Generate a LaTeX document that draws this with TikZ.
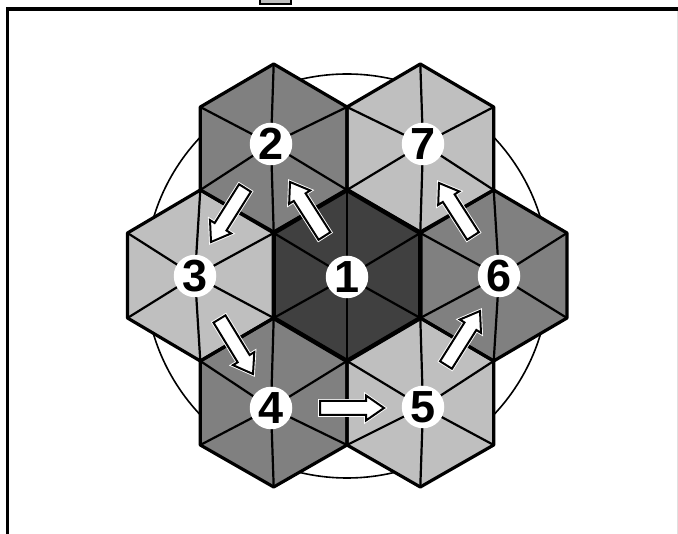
\documentclass[tikz,border=0pt]{standalone}
\usepackage{fontspec}
\setmainfont{Liberation Sans}
\usetikzlibrary{calc}
\definecolor{gdark}{gray}{0.25}
\definecolor{gmid}{gray}{0.5}
\definecolor{glight}{gray}{0.75}
\tikzset{
  spoke/.style={line width=2.2pt,black},
  hexline/.style={line width=3.2pt,black,line join=round},
  numdisc/.style={circle,fill=white,minimum size=42.5pt,inner sep=0pt,font=\fontsize{45}{45}\selectfont\bfseries},
  halo/.style={line width=3.8pt,white,miter limit=6},
  flowline/.style={line width=2pt,black,fill=white,miter limit=6}
}
% #1 name, #2 fill, #3 centre x, #4-#7 the four y levels, #8 left x, #9 right x
\newcommand\hexcell[9]{
  \coordinate (#1a) at (#3,#4);
  \coordinate (#1b) at (#9,#5);
  \coordinate (#1c) at (#9,#6);
  \coordinate (#1d) at (#3,#7);
  \coordinate (#1e) at (#8,#6);
  \coordinate (#1f) at (#8,#5);
  \fill[#2] (#1a)--(#1b)--(#1c)--(#1d)--(#1e)--(#1f)--cycle;
  \foreach \v in {a,b,c,d,e,f} {\draw[spoke] (#1\v) -- (n#1.center);}
}
\newcommand\hexedge[1]{\draw[hexline] (#1a)--(#1b)--(#1c)--(#1d)--(#1e)--(#1f)--cycle;}
\newcommand\flowarrow[2]{
  \coordinate (hb) at ($(#2)!18pt!(#1)$);
  \coordinate (p1) at ($(#1)!7pt!90:(#2)$);
  \coordinate (p2) at ($(#1)!7pt!-90:(#2)$);
  \coordinate (p3) at ($(hb)!7pt!-90:(#2)$);
  \coordinate (p4) at ($(hb)!12.5pt!-90:(#2)$);
  \coordinate (p5) at ($(hb)!12.5pt!90:(#2)$);
  \coordinate (p6) at ($(hb)!7pt!90:(#2)$);
  \draw[halo] (p1)--(p2)--(p3)--(p4)--(#2)--(p5)--(p6)--cycle;
  \draw[flowline] (p1)--(p2)--(p3)--(p4)--(#2)--(p5)--(p6)--cycle;
}
\begin{document}
\begin{tikzpicture}[x=1pt,y=-1pt]
\useasboundingbox (0,0) rectangle (678,534);
\fill[white] (0,0) rectangle (678,534);
% frame
\draw[line width=.8pt,black!12] (677.5,9) -- (677.5,534);
\draw[line width=3.2pt,black] (7.5,534) -- (7.5,9) -- (678,9);
\draw[line width=1.8pt,black,fill=glight] (259.7,-3) rectangle (290.8,4);
% circle behind
\node[circle,draw=black,line width=1.6pt,minimum size=404pt,inner sep=0pt] (ring) at (347,276) {};
% number anchor positions
\path
  (347,277) coordinate (n1)
  (271,144) coordinate (n2)
  (195,276) coordinate (n3)
  (271,408) coordinate (n4)
  (423,407) coordinate (n5)
  (499,276) coordinate (n6)
  (423,144) coordinate (n7);
\hexcell{2}{gmid}{273.7}{64}{107}{190}{232}{200.3}{347}
\hexcell{7}{glight}{420.3}{64}{107}{190}{232}{347}{493.7}
\hexcell{3}{glight}{200.3}{190}{233}{318}{361}{127.5}{273.7}
\hexcell{6}{gmid}{493.7}{190}{233}{318}{361}{420.3}{567}
\hexcell{4}{gmid}{273.7}{318}{361}{445}{487}{200.3}{347}
\hexcell{5}{glight}{420.3}{318}{361}{445}{487}{347}{493.7}
\hexcell{1}{gdark}{347}{190}{233}{318}{361}{273.7}{420.3}
\hexedge{2}\hexedge{7}\hexedge{3}\hexedge{6}\hexedge{4}\hexedge{5}
\begin{scope}[hexline/.append style={line width=4.4pt}]
\hexedge{1}
\end{scope}
% flow arrows
\path
  (324.5,236) coordinate (t12) (290,182) coordinate (h12)
  (245,188) coordinate (t23) (211,242) coordinate (h23)
  (219.5,319) coordinate (t34) (253,374) coordinate (h34)
  (320,408) coordinate (t45) (384,408) coordinate (h45)
  (446,365) coordinate (t56) (480,311) coordinate (h56)
  (473,236) coordinate (t67) (439,183) coordinate (h67);
\flowarrow{t12}{h12}
\flowarrow{t23}{h23}
\flowarrow{t34}{h34}
\flowarrow{t45}{h45}
\flowarrow{t56}{h56}
\flowarrow{t67}{h67}
% numbers
\node[numdisc] (d1) at (n1) {1};
\node[numdisc] (d2) at (n2) {2};
\node[numdisc] (d3) at (n3) {3};
\node[numdisc] (d4) at (n4) {4};
\node[numdisc] (d5) at (n5) {5};
\node[numdisc] (d6) at (n6) {6};
\node[numdisc] (d7) at (n7) {7};
\end{tikzpicture}
\end{document}
